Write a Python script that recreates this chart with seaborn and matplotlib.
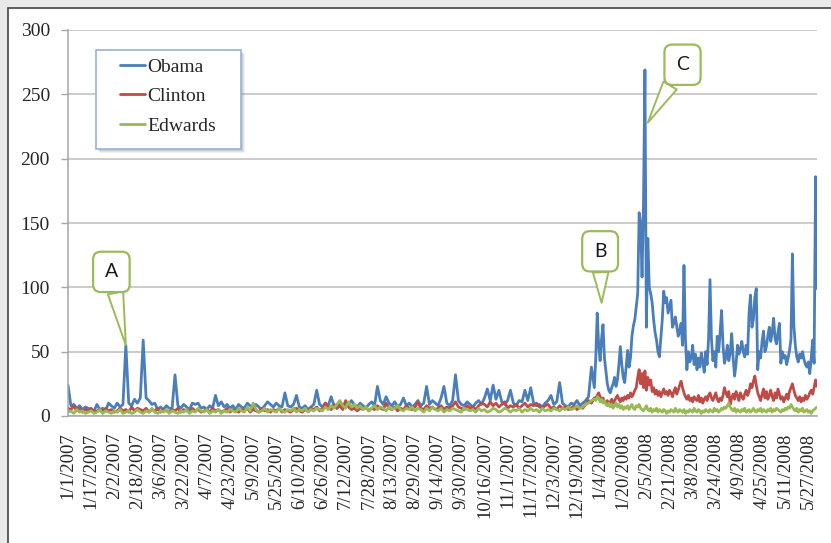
import numpy as np
import pandas as pd
import matplotlib
matplotlib.use("Agg")
import matplotlib.pyplot as plt
import matplotlib.dates as mdates
from matplotlib.lines import Line2D
from matplotlib.patches import Rectangle
import seaborn as sns

# Daily mention counts per candidate.
# 2007 values are sampled every second day, 2008 values are daily.
obama_2007 = [
    24, 8, 9, 6, 8, 5, 7, 6, 5, 4,
    9, 5, 6, 4, 10, 8, 6, 10, 7, 9,
    55, 10, 8, 13, 10, 14, 59, 14, 12, 9,
    10, 5, 7, 5, 8, 6, 6, 32, 8, 6,
    9, 7, 5, 10, 9, 10, 6, 7, 5, 8,
    6, 16, 8, 11, 7, 9, 6, 8, 5, 9,
    7, 6, 10, 8, 6, 9, 7, 5, 8, 11,
    9, 7, 10, 8, 7, 18, 8, 7, 9, 16,
    7, 6, 8, 5, 7, 9, 20, 9, 7, 10,
    8, 15, 8, 6, 10, 9, 7, 8, 12, 9,
    7, 10, 8, 6, 9, 11, 8, 23, 12, 9,
    15, 10, 8, 11, 7, 9, 14, 8, 10, 7,
    9, 12, 8, 10, 23, 9, 12, 10, 8, 14,
    23, 10, 8, 12, 32, 12, 9, 8, 11, 9,
    7, 10, 12, 9, 14, 21, 12, 24, 13, 20,
    11, 9, 12, 20, 10, 8, 12, 11, 20, 12,
    22, 10, 8, 9, 7, 10, 12, 16, 9, 11,
    26, 10, 8, 7, 10, 9, 12, 8, 10, 12,
    15, 38, 22,
]
clinton_2007 = [
    6, 5, 8, 4, 6, 3, 5, 4, 6, 3,
    4, 5, 3, 6, 4, 5, 3, 4, 6, 4,
    5, 3, 7, 4, 6, 5, 4, 6, 3, 5,
    4, 6, 3, 5, 4, 3, 5, 4, 6, 3,
    5, 4, 3, 6, 4, 5, 3, 4, 5, 3,
    6, 4, 5, 3, 4, 6, 3, 5, 4, 3,
    5, 4, 6, 3, 5, 4, 3, 6, 4, 5,
    3, 5, 4, 6, 3, 5, 4, 3, 5, 6,
    4, 3, 5, 4, 6, 5, 7, 4, 6, 10,
    7, 5, 9, 6, 8, 5, 12, 7, 5, 6,
    4, 6, 5, 7, 4, 6, 5, 8, 6, 5,
    10, 6, 5, 7, 4, 6, 5, 8, 6, 5,
    7, 11, 6, 5, 8, 6, 7, 5, 6, 8,
    5, 7, 6, 8, 11, 7, 6, 5, 8, 6,
    7, 5, 8, 10, 9, 7, 11, 8, 10, 7,
    9, 11, 6, 8, 7, 9, 6, 8, 10, 7,
    9, 8, 10, 7, 6, 8, 9, 6, 7, 5,
    8, 6, 7, 5, 6, 8, 5, 7, 6, 9,
    12, 10, 14,
]
edwards_2007 = [
    3, 4, 2, 5, 3, 4, 2, 3, 4, 2,
    3, 5, 2, 4, 3, 2, 4, 3, 5, 2,
    3, 4, 2, 3, 5, 3, 2, 4, 3, 6,
    3, 2, 4, 3, 5, 2, 4, 3, 2, 4,
    3, 5, 2, 4, 3, 6, 4, 3, 5, 2,
    4, 3, 5, 2, 4, 3, 5, 4, 3, 6,
    4, 3, 7, 4, 10, 5, 3, 4, 6, 3,
    5, 4, 3, 6, 4, 3, 5, 4, 6, 3,
    5, 4, 6, 3, 5, 4, 6, 5, 4, 7,
    5, 8, 6, 9, 12, 8, 6, 11, 7, 9,
    6, 8, 5, 7, 4, 6, 8, 5, 7, 6,
    4, 7, 5, 6, 8, 5, 4, 6, 5, 7,
    4, 6, 5, 3, 6, 4, 7, 5, 4, 6,
    3, 5, 4, 6, 5, 4, 3, 6, 5, 4,
    5, 3, 6, 4, 5, 3, 4, 6, 5, 3,
    4, 6, 5, 3, 5, 4, 6, 3, 5, 4,
    6, 4, 5, 3, 6, 4, 5, 4, 6, 5,
    4, 6, 5, 7, 5, 6, 8, 6, 7, 9,
    10, 12, 13,
]

obama_2008 = [
    45, 80, 55, 43, 60, 71, 45, 35, 25, 20,
    18, 22, 25, 30, 23, 28, 40, 54, 40, 30,
    26, 38, 51, 38, 45, 62, 70, 75, 85, 95,
    158, 150, 108, 165, 269, 69, 138, 100, 95, 88,
    75, 65, 59, 50, 46, 60, 75, 97, 88, 92,
    80, 85, 90, 69, 72, 77, 70, 62, 66, 72,
    55, 117, 60, 36, 50, 42, 45, 55, 40, 48,
    36, 45, 38, 49, 42, 34, 50, 40, 60, 106,
    60, 43, 50, 38, 62, 50, 65, 82, 55, 41,
    46, 55, 43, 49, 64, 45, 31, 40, 55, 48,
    52, 58, 50, 46, 55, 48, 80, 94, 69, 75,
    92, 99, 36, 50, 45, 58, 66, 50, 54, 62,
    69, 58, 65, 76, 60, 56, 65, 72, 41, 50,
    45, 47, 40, 45, 51, 60, 126, 70, 55, 46,
    42, 48, 45, 50, 44, 40, 38, 42, 33, 45,
    59, 41, 186, 99,
]
clinton_2008 = [
    14, 16, 18, 15, 12, 14, 11, 10, 12, 9,
    11, 13, 10, 12, 14, 16, 13, 11, 14, 12,
    15, 13, 16, 14, 18, 15, 17, 20, 22, 30,
    36, 25, 33, 22, 35, 20, 30, 24, 28, 19,
    22, 17, 20, 16, 19, 15, 18, 21, 17, 19,
    16, 20, 18, 15, 19, 22, 17, 20, 24, 27,
    22, 18, 15, 13, 16, 12, 14, 11, 15, 13,
    12, 16, 11, 14, 10, 13, 15, 12, 16, 18,
    14, 12, 15, 18, 13, 11, 14, 12, 16, 22,
    18, 15, 19, 9, 14, 17, 13, 19, 16, 12,
    18, 15, 13, 17, 20, 16, 19, 25, 22, 27,
    31, 24, 18, 15, 12, 17, 21, 14, 19, 13,
    16, 20, 15, 12, 18, 14, 21, 17, 13, 15,
    11, 14, 17, 13, 19, 22, 25, 20, 16, 14,
    12, 15, 11, 14, 12, 16, 13, 15, 18, 20,
    17, 22, 28, 23,
]
edwards_2008 = [
    12, 15, 14, 11, 13, 10, 12, 9, 8, 10,
    7, 9, 6, 8, 10, 7, 9, 6, 8, 5,
    7, 6, 8, 5, 7, 9, 6, 5, 8, 7,
    9, 6, 5, 4, 6, 8, 5, 4, 6, 3,
    5, 4, 6, 3, 5, 4, 3, 5, 4, 2,
    4, 3, 5, 4, 3, 6, 4, 3, 5, 4,
    3, 5, 2, 4, 3, 5, 4, 3, 6, 4,
    3, 5, 4, 2, 4, 3, 5, 4, 3, 5,
    4, 3, 6, 4, 5, 3, 4, 6, 5, 7,
    6, 8, 10, 7, 5, 4, 6, 3, 5, 4,
    3, 5, 4, 6, 3, 4, 5, 3, 4, 6,
    4, 3, 5, 4, 6, 3, 5, 4, 3, 5,
    4, 6, 3, 5, 4, 6, 5, 4, 3, 5,
    4, 6, 5, 7, 6, 9, 7, 5, 4, 6,
    3, 5, 4, 6, 3, 4, 5, 3, 4, 2,
    4, 5, 6, 7,
]

candidates = ["Obama", "Clinton", "Edwards"]
colors = ["#4A7EBB", "#BE4B48", "#98B954"]
y_ticks = [0, 50, 100, 150, 200, 250, 300]

# Callout letters: (label, box centre date, box centre value, tip date, tip value)
callouts = [
    ("A", "2007-01-31", 112, "2007-02-10", 55),
    ("B", "2008-01-04", 128, "2008-01-05", 88),
    ("C", "2008-03-01", 273, "2008-02-06", 228),
]


def series_frame(name, v2007, v2008):
    d1 = pd.date_range("2007-01-01", periods=len(v2007), freq="2D")
    d2 = pd.date_range("2008-01-01", periods=len(v2008), freq="D")
    return pd.DataFrame({
        "date": list(d1) + list(d2),
        "mentions": list(v2007) + list(v2008),
        "candidate": name,
    })


df = pd.concat([
    series_frame("Obama", obama_2007, obama_2008),
    series_frame("Clinton", clinton_2007, clinton_2008),
    series_frame("Edwards", edwards_2007, edwards_2008),
], ignore_index=True)

sns.set_style("white")
plt.rcParams["font.family"] = ["Liberation Serif", "DejaVu Serif"]

W, H = 831, 543
fig = plt.figure(figsize=(W / 100, H / 100), dpi=100)
fig.patch.set_facecolor("#e9e9e9")
# white chart card with a dark frame
fig.patches.append(Rectangle((8 / W, -0.05), 1.0, 1.05 - 8 / H,
                             transform=fig.transFigure, facecolor="white",
                             edgecolor="#505050", linewidth=1.3, zorder=-5))

ax = fig.add_axes([68 / W, 1 - 416 / H, (817 - 68) / W, (416 - 30) / H])
ax.set_facecolor("none")

sns.lineplot(data=df, x="date", y="mentions", hue="candidate",
             hue_order=candidates, palette=colors, linewidth=2.0,
             estimator=None, legend=False, ax=ax)

x0 = pd.Timestamp("2007-01-01")
x1 = df["date"].max()
ax.set_xlim(x0, x1)
ax.set_ylim(0, 300)

ax.set_yticks(y_ticks)
ax.set_yticklabels([str(t) for t in y_ticks])
ax.grid(axis="y", color="#bdbdbd", linewidth=1.1)
ax.grid(axis="x", visible=False)
ax.set_axisbelow(True)

tick_dates = pd.date_range(x0, x1, freq="16D")
ax.set_xticks(tick_dates)
ax.set_xticklabels([f"{d.month}/{d.day}/{d.year}" for d in tick_dates],
                   rotation=90, ha="center", va="top")

ax.tick_params(axis="y", length=5, width=1, color="#a6a6a6", pad=8,
               labelsize=14, labelcolor="#262626", left=True)
ax.tick_params(axis="x", length=0, pad=12, labelsize=13.5,
               labelcolor="#262626", bottom=True)
ax.set_xlabel("")
ax.set_ylabel("")

for side in ["top", "right"]:
    ax.spines[side].set_visible(False)
for side in ["left", "bottom"]:
    ax.spines[side].set_color("#a6a6a6")
    ax.spines[side].set_linewidth(1.1)

# legend frame with a soft shadow
lx0, lx1 = (96 - 68) / 749, (241 - 68) / 749
ly0, ly1 = (416 - 149) / 386, (416 - 50) / 386
for k, a in [(4, 0.10), (3, 0.14), (2, 0.18)]:
    ax.add_patch(Rectangle((lx0 + k / 749, ly0 - k / 386), lx1 - lx0, ly1 - ly0,
                           transform=ax.transAxes, facecolor="#7f7f7f",
                           edgecolor="none", alpha=a, zorder=5))
ax.add_patch(Rectangle((lx0, ly0), lx1 - lx0, ly1 - ly0, transform=ax.transAxes,
                       facecolor="white", edgecolor="#95B3D7", linewidth=1.2,
                       zorder=6))

handles = [Line2D([0], [0], color=c, linewidth=2.0) for c in colors]
leg = ax.legend(handles, candidates, loc="upper left",
                bbox_to_anchor=((120 - 68) / 749, (416 - 58) / 386),
                frameon=False, fontsize=14, handlelength=1.3,
                handletextpad=0.1, labelspacing=0.62, borderpad=0,
                borderaxespad=0)
leg.set_zorder(7)
for t in leg.get_texts():
    t.set_color("#262626")

# lettered callouts
for label, bx, by, tx, ty in callouts:
    ax.annotate(label,
                xy=(mdates.date2num(pd.Timestamp(tx)), ty),
                xytext=(mdates.date2num(pd.Timestamp(bx)), by),
                ha="center", va="center", fontsize=14, family="Lato",
                color="#1a1a1a", zorder=8,
                bbox=dict(boxstyle="round,pad=0.6,rounding_size=0.4",
                          facecolor="white", edgecolor="#9BBB59",
                          linewidth=1.6),
                arrowprops=dict(arrowstyle="wedge,tail_width=0.8,shrink_factor=0.5",
                                facecolor="white", edgecolor="#9BBB59",
                                linewidth=1.4, shrinkA=0, shrinkB=0))

fig.savefig("out.png", dpi=100, facecolor=fig.get_facecolor())
